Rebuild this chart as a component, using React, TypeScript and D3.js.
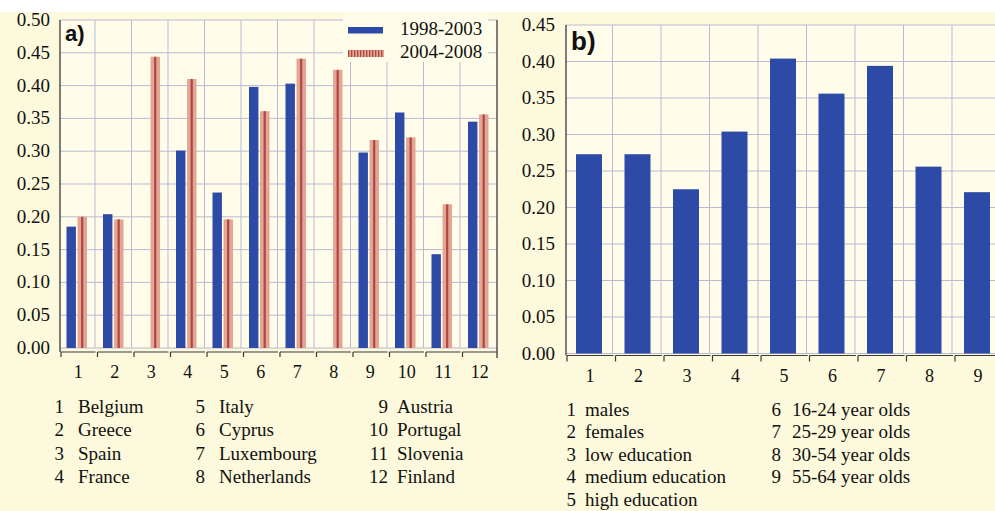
import React from 'react';
import * as d3 from 'd3';

// ---------- data ----------
const countries = ['Belgium', 'Greece', 'Spain', 'France', 'Italy', 'Cyprus', 'Luxembourg', 'Netherlands', 'Austria', 'Portugal', 'Slovenia', 'Finland'];
const seriesNames = ['1998-2003', '2004-2008'];
const values1998 = [0.185, 0.204, null, 0.301, 0.237, 0.398, 0.403, null, 0.298, 0.359, 0.143, 0.345];
const values2004 = [0.200, 0.196, 0.444, 0.410, 0.196, 0.361, 0.441, 0.424, 0.317, 0.321, 0.219, 0.356];
const ticksA = [0, 0.05, 0.1, 0.15, 0.2, 0.25, 0.3, 0.35, 0.4, 0.45, 0.5];

const groupsB = ['males', 'females', 'low education', 'medium education', 'high education', '16-24 year olds', '25-29 year olds', '30-54 year olds', '55-64 year olds'];
const valuesB = [0.273, 0.273, 0.225, 0.304, 0.404, 0.356, 0.394, 0.256, 0.221];
const ticksB = [0, 0.05, 0.1, 0.15, 0.2, 0.25, 0.3, 0.35, 0.4, 0.45];

// ---------- style ----------
const BLUE = '#2d4aa6';
const SALMON = '#e3a595';
const DARKRED = '#b0483f';
const GRID = '#b9b9d6';
const AXIS = '#3a3a3a';
const OUTER = '#fdf9dc';
const INNER = '#fffce9';
const SERIF = '"Liberation Serif", "Times New Roman", serif';
const SANS = '"Liberation Sans", Arial, sans-serif';

const fmt = d3.format('.2f');

function PanelA() {
  const left = 60, right = 497, top = 20, bottom = 348;
  const idx = countries.map((_, i) => String(i + 1));
  const x0 = d3.scaleBand<string>().domain(idx).range([left, right + 1]);
  const x1 = d3.scaleBand<string>().domain(seriesNames).range([6.5, 27]).paddingInner(0.15);
  const y = d3.scaleLinear().domain([0, 0.5]).range([bottom, top]);
  const axisY = bottom + 4;
  return (
    <g>
      <rect x={left} y={top} width={right - left} height={bottom - top} fill={INNER} />
      {ticksA.map((t) => (
        <line key={'h' + t} x1={left} x2={right} y1={y(t)} y2={y(t)} stroke={GRID} strokeWidth={1} />
      ))}
      {idx.slice(1).map((c) => (
        <line key={'v' + c} x1={(x0(c) as number) - 1.5} x2={(x0(c) as number) - 1.5} y1={top} y2={bottom} stroke={GRID} strokeWidth={1} />
      ))}
      {/* legend box */}
      <rect x={343} y={13} width={145} height={49} fill={INNER} />
      <rect x={348} y={27} width={35} height={6.5} fill={BLUE} />
      {d3.range(0, 35, 3).map((k) => (
        <rect key={'ls' + k} x={348 + k} y={50} width={1.8} height={7} fill={DARKRED} />
      ))}
      {d3.range(1.5, 35, 3).map((k) => (
        <rect key={'lt' + k} x={348 + k} y={50} width={1.5} height={7} fill={SALMON} />
      ))}
      <text x={400} y={35} fontFamily={SERIF} fontSize={19} fill="#111">{seriesNames[0]}</text>
      <text x={400} y={58} fontFamily={SERIF} fontSize={19} fill="#111">{seriesNames[1]}</text>
      {/* bars */}
      {idx.map((c, i) => {
        const v1 = values1998[i];
        const v2 = values2004[i];
        const bx = x0(c) as number;
        const w1 = x1.bandwidth();
        return (
          <g key={'b' + c}>
            {v1 != null && (
              <rect x={bx + (x1(seriesNames[0]) as number)} y={y(v1)} width={w1} height={bottom - y(v1)} fill={BLUE} />
            )}
            {v2 != null && (
              <g>
                <rect x={bx + (x1(seriesNames[1]) as number)} y={y(v2)} width={w1} height={bottom - y(v2)} fill={SALMON} />
                <rect x={bx + (x1(seriesNames[1]) as number) + w1 / 2 - 1.2} y={y(v2)} width={2.2} height={bottom - y(v2)} fill={DARKRED} />
              </g>
            )}
          </g>
        );
      })}
      {/* axes */}
      <line x1={left} x2={left} y1={top} y2={axisY} stroke={AXIS} strokeWidth={1.3} />
      <line x1={right} x2={right} y1={top} y2={axisY + 6} stroke={AXIS} strokeWidth={1.3} />
      {idx.map((c) => {
        const bx = x0(c) as number;
        return (
          <g key={'t' + c}>
            <line x1={bx + 1} x2={bx + x0.bandwidth() - 1} y1={axisY} y2={axisY} stroke={AXIS} strokeWidth={1.2} />
            <line x1={bx + 1} x2={bx + 1} y1={axisY} y2={axisY + 5} stroke={AXIS} strokeWidth={1.2} />
            <text x={bx + x0.bandwidth() / 2} y={378} textAnchor="middle" fontFamily={SERIF} fontSize={18} fill="#111">{c}</text>
          </g>
        );
      })}
      {ticksA.map((t) => (
        <text key={'yl' + t} x={50} y={y(t) + 6} textAnchor="end" fontFamily={SERIF} fontSize={19} fill="#111">{fmt(t)}</text>
      ))}
      <text x={65} y={41} fontFamily={SANS} fontWeight="bold" fontSize={22} fill="#111">a)</text>
      {/* key */}
      {countries.map((name, i) => {
        const col = Math.floor(i / 4);
        const row = i % 4;
        const numX = [64, 205, 388][col];
        const nameX = [78, 219, 397][col];
        const yy = 413 + row * 23.3;
        return (
          <g key={'k' + i}>
            <text x={numX} y={yy} textAnchor="end" fontFamily={SERIF} fontSize={19} fill="#111">{i + 1}</text>
            <text x={nameX} y={yy} fontFamily={SERIF} fontSize={19} fill="#111">{name}</text>
          </g>
        );
      })}
    </g>
  );
}

function PanelB() {
  const left = 566, top = 25, bottom = 353.5;
  const bandW = 48.5;
  const idx = groupsB.map((_, i) => String(i + 1));
  const x = d3.scaleBand<string>().domain(idx).range([left, left + bandW * idx.length]);
  const y = d3.scaleLinear().domain([0, 0.45]).range([bottom, top]);
  const right = left + bandW * idx.length;
  const axisY = bottom + 2;
  return (
    <g>
      <rect x={left} y={top} width={right - left} height={bottom - top} fill={INNER} />
      {ticksB.map((t) => (
        <line key={'h' + t} x1={left} x2={right} y1={y(t)} y2={y(t)} stroke={GRID} strokeWidth={1} />
      ))}
      {idx.slice(1).map((c) => (
        <line key={'v' + c} x1={(x(c) as number) - 2} x2={(x(c) as number) - 2} y1={top} y2={bottom} stroke={GRID} strokeWidth={1} />
      ))}
      {idx.map((c, i) => {
        const bx = x(c) as number;
        return <rect key={'b' + c} x={bx + 10} y={y(valuesB[i])} width={26} height={bottom - y(valuesB[i])} fill={BLUE} />;
      })}
      <line x1={left} x2={left} y1={top} y2={axisY} stroke={AXIS} strokeWidth={1.3} />
      {idx.map((c) => {
        const bx = x(c) as number;
        return (
          <g key={'t' + c}>
            <line x1={bx + 1} x2={bx + x.bandwidth() - 1} y1={axisY} y2={axisY} stroke={AXIS} strokeWidth={1.2} />
            <line x1={bx + 1} x2={bx + 1} y1={axisY} y2={axisY + 6} stroke={AXIS} strokeWidth={1.2} />
            <text x={bx + 24} y={382} textAnchor="middle" fontFamily={SERIF} fontSize={18} fill="#111">{c}</text>
          </g>
        );
      })}
      {ticksB.map((t) => (
        <text key={'yl' + t} x={555} y={y(t) + 6} textAnchor="end" fontFamily={SERIF} fontSize={19} fill="#111">{fmt(t)}</text>
      ))}
      <text x={571} y={50} fontFamily={SANS} fontWeight="bold" fontSize={26} fill="#111">b)</text>
      {groupsB.map((name, i) => {
        const col = i < 5 ? 0 : 1;
        const row = i < 5 ? i : i - 5;
        const numX = [576, 781][col];
        const nameX = [585, 792][col];
        const yy = 415.5 + row * 22.6;
        return (
          <g key={'k' + i}>
            <text x={numX} y={yy} textAnchor="end" fontFamily={SERIF} fontSize={19} fill="#111">{i + 1}</text>
            <text x={nameX} y={yy} fontFamily={SERIF} fontSize={19} fill="#111">{name}</text>
          </g>
        );
      })}
    </g>
  );
}

export default function App() {
  return (
    <svg width={995} height={511} style={{ position: 'absolute', left: 0, top: 0, display: 'block' }}>
      <rect x={0} y={0} width={995} height={511} fill="#ffffff" />
      <rect x={0} y={12} width={995} height={499} fill={OUTER} />
      <PanelA />
      <PanelB />
    </svg>
  );
}
